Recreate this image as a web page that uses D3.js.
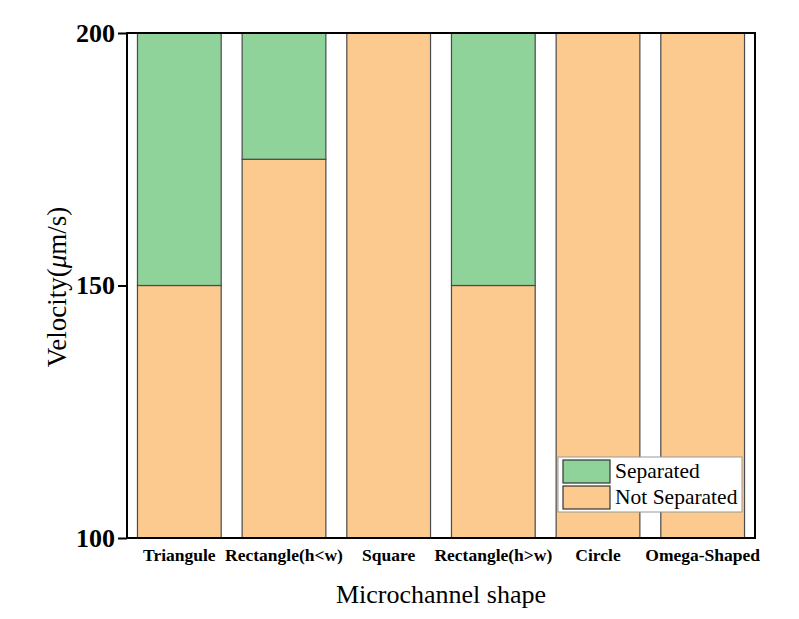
<!DOCTYPE html>
<html>
<head>
<meta charset="utf-8">
<script src="https://cdn.jsdelivr.net/npm/d3@7"></script>
<style>
  html, body { margin: 0; padding: 0; background: #ffffff; }
  svg { display: block; font-family: "Liberation Serif", "Times New Roman", serif; }
</style>
</head>
<body>
<svg id="chart" width="799" height="619"></svg>
<script>
// Channel shapes along the x axis
const categories = ["Triangule", "Rectangle(h<w)", "Square", "Rectangle(h>w)", "Circle", "Omega-Shaped"];
// Velocity ranges (µm/s): lower part not separated, upper part separated
const notSeparated = [150, 175, 200, 150, 200, 200];
const separated = [50, 25, 0, 50, 0, 0];
const yTicks = [100, 150, 200];
const seriesNames = ["Separated", "Not Separated"];

const colors = { "Separated": "#90d39a", "Not Separated": "#fcc98f" };

const svg = d3.select("#chart");
const margin = { left: 127, right: 44, top: 33, bottom: 81 };
const W = 799, H = 619;
const x0 = margin.left, x1 = W - margin.right, y0 = margin.top, y1 = H - margin.bottom;

const x = d3.scaleBand().domain(categories).range([x0, x1]).paddingInner(0.2).paddingOuter(0.1);
const y = d3.scaleLinear().domain([100, 200]).range([y1, y0]);

const rows = categories.map((c, i) => ({ cat: c, "Not Separated": notSeparated[i], "Separated": separated[i] }));
const stack = d3.stack().keys(["Not Separated", "Separated"]);
const layers = stack(rows);

const g = svg.append("g");
layers.forEach(layer => {
  g.selectAll(null).data(layer.filter(d => d[1] > d[0]))
    .enter().append("rect")
    .attr("x", d => x(d.data.cat))
    .attr("width", x.bandwidth())
    .attr("y", d => y(Math.min(d[1], 200)))
    .attr("height", d => y(Math.max(d[0], 100)) - y(Math.min(d[1], 200)))
    .attr("fill", colors[layer.key])
    .attr("stroke", "#4a4a4a")
    .attr("stroke-width", 1.2);
});

// Frame
svg.append("rect").attr("x", x0).attr("y", y0).attr("width", x1 - x0).attr("height", y1 - y0)
  .attr("fill", "none").attr("stroke", "#000").attr("stroke-width", 2);

// Y axis
const yAxis = svg.append("g").attr("transform", `translate(${x0},0)`)
  .call(d3.axisLeft(y).tickValues(yTicks).tickSize(9).tickPadding(3).tickFormat(d3.format("d")));
yAxis.select(".domain").remove();
yAxis.selectAll("line").attr("stroke", "#000").attr("stroke-width", 2);
yAxis.selectAll("text").attr("font-family", "Liberation Serif").attr("font-weight", "bold")
  .attr("font-size", 26).attr("fill", "#000");

// X axis labels
const xAxis = svg.append("g").attr("transform", `translate(0,${y1})`)
  .call(d3.axisBottom(x).tickSize(0).tickPadding(11));
xAxis.select(".domain").remove();
xAxis.selectAll("text").attr("font-family", "Liberation Serif").attr("font-weight", "bold")
  .attr("font-size", 17.5).attr("fill", "#000");

// Axis titles
svg.append("text").attr("x", (x0 + x1) / 2 + 0).attr("y", 603).attr("text-anchor", "middle")
  .attr("font-size", 26).attr("fill", "#000").text("Microchannel shape");

const yt = svg.append("text").attr("transform", `translate(66,287) rotate(-90)`)
  .attr("text-anchor", "middle").attr("font-size", 27).attr("fill", "#000");
yt.append("tspan").text("Velocity(");
yt.append("tspan").attr("font-style", "italic").text("\u03bc");
yt.append("tspan").text("m/s)");

// Legend
const lg = svg.append("g").attr("transform", "translate(558,457)");
lg.append("rect").attr("width", 184).attr("height", 55).attr("fill", "#fff").attr("stroke", "#999").attr("stroke-width", 1);
seriesNames.forEach((s, i) => {
  const row = lg.append("g").attr("transform", `translate(5,${3 + i * 26})`);
  row.append("rect").attr("width", 47).attr("height", 23).attr("fill", colors[s])
    .attr("stroke", "#333").attr("stroke-width", 1.2);
  row.append("text").attr("x", 52).attr("y", 18).attr("font-size", 21.5).attr("fill", "#000").text(s);
});
</script>
</body>
</html>
